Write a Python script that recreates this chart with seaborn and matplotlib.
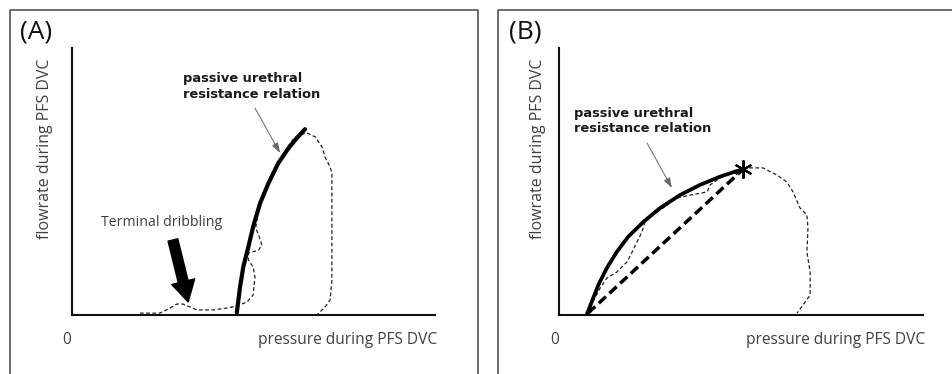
import matplotlib
matplotlib.use("Agg")
import matplotlib.pyplot as plt
from matplotlib.patches import Rectangle
import seaborn as sns

# ---------------- data (arbitrary units, axes span 0..100) ----------------
# Panel A: passive urethral resistance relation (solid)
a_purr_x = [45.4, 46.3, 47.2, 48.6, 49.9, 51.8, 54.1, 56.8, 59.6, 61.9, 64.2]
a_purr_y = [0.9, 10.6, 18.1, 25.6, 33.1, 41.8, 49.3, 56.8, 62.4, 66.2, 69.6]
# Panel A: measured pressure-flow loop (thin dashed)
a_loop_x = [18.7, 24.2, 27.0, 28.9, 30.6, 32.5, 34.4, 38.8, 42.7, 45.5, 48.2, 49.9,
            50.4, 49.9, 48.6, 48.6, 51.4, 52.3, 51.4, 50.6, 51.2, 52.6, 54.6, 57.3,
            60.1, 61.5, 62.5, 64.7, 67.0, 68.9, 69.7, 71.1, 71.6, 71.6, 71.6, 71.1,
            69.7, 68.3, 67.5]
a_loop_y = [0.7, 0.7, 2.6, 4.1, 4.1, 3.0, 1.9, 1.9, 2.6, 3.4, 4.9, 7.5,
            14.2, 18.0, 20.6, 23.2, 24.3, 26.2, 30.0, 32.6, 37.5, 44.9, 51.7, 58.1,
            64.4, 66.7, 67.4, 68.2, 66.7, 62.9, 59.2, 55.4, 53.2, 35.6, 13.1, 5.6,
            3.0, 1.1, 0.0]
# Panel A: terminal dribbling arrow (tail -> tip) and label pointer
a_drib_arrow = [(27.8, 28.1), (32.0, 4.9)]
a_label_arrow = [(50.4, 77.5), (57.3, 60.7)]

# Panel B: passive urethral resistance relation (solid)
b_purr_x = [7.6, 9.0, 10.8, 13.1, 15.9, 19.0, 23.2, 27.7, 33.2, 38.7, 44.2, 48.8, 50.5]
b_purr_y = [0.0, 5.0, 11.2, 17.5, 23.7, 29.3, 34.9, 40.0, 44.9, 48.7, 51.8, 53.9, 54.5]
# Panel B: straight line to maximum-flow point (thick dashed)
b_line_x = [8.0, 50.5]
b_line_y = [0.7, 54.5]
# Panel B: measured pressure-flow loop (thin dashed)
b_loop_x = [8.0, 9.3, 11.3, 13.2, 15.9, 18.7, 20.1, 21.4, 22.8, 23.6, 25.8, 28.6,
            32.4, 36.0, 40.7, 41.5, 44.2, 47.0, 48.9, 52.5, 56.0, 59.9, 62.6, 64.3,
            66.2, 68.1, 68.4, 68.1, 69.0, 69.0, 67.0, 65.4]
b_loop_y = [0.7, 4.9, 10.1, 13.9, 16.1, 19.9, 23.6, 27.3, 31.1, 34.8, 37.5, 40.1,
            43.8, 44.9, 46.1, 48.7, 51.3, 53.2, 53.9, 55.1, 55.1, 52.4, 49.8, 46.1,
            40.1, 37.5, 32.6, 23.6, 16.1, 7.5, 3.7, 0.7]
b_star = (50.5, 54.5)
b_label_arrow = [(24.2, 64.4), (31.0, 47.6)]

panel_labels = ["(A)", "(B)"]
xlabel_text = "pressure during PFS DVC"
ylabel_text = "flowrate during PFS DVC"
zero_text = "0"
purr_text = "passive urethral\nresistance relation"
drib_text = "Terminal dribbling"

# ---------------- styling ----------------
sns.set_style("white")
plt.rcParams['font.family'] = ['Open Sans', 'DejaVu Sans']

W, H = 952, 374
fig = plt.figure(figsize=(W / 100, H / 100), dpi=100)

GRAY = "#555555"


def fx(px):
    return px / W


def fy(py):
    return 1 - py / H


# panel frames
fig.patches.append(Rectangle((fx(10), fy(380)), fx(478) - fx(10), fy(10) - fy(380),
                             transform=fig.transFigure, fill=False, ec=GRAY, lw=1.2))
fig.patches.append(Rectangle((fx(498), fy(380)), fx(960) - fx(498), fy(10) - fy(380),
                             transform=fig.transFigure, fill=False, ec=GRAY, lw=1.2))

axA = fig.add_axes([fx(72), fy(315), fx(435) - fx(72), fy(48) - fy(315)])
axB = fig.add_axes([fx(559), fy(315), fx(923) - fx(559), fy(48) - fy(315)])

thin_dash = (0, (3, 2))
for ax in (axA, axB):
    ax.set_xlim(0, 100)
    ax.set_ylim(0, 100)
    ax.set_facecolor("none")
    for s in ("top", "right"):
        ax.spines[s].set_visible(False)
    for s in ("left", "bottom"):
        ax.spines[s].set_color("#111111")
        ax.spines[s].set_linewidth(1.5)

# Panel A
sns.lineplot(x=a_loop_x, y=a_loop_y, sort=False, ax=axA, color="#222222",
             lw=0.9, linestyle=thin_dash, estimator=None)
sns.lineplot(x=a_purr_x, y=a_purr_y, sort=False, ax=axA, color="black",
             lw=3.0, estimator=None, solid_joinstyle="round")
axA.annotate("", xy=a_drib_arrow[1], xytext=a_drib_arrow[0],
             arrowprops=dict(arrowstyle="simple,head_length=0.75,head_width=0.85,tail_width=0.36",
                             color="black", shrinkA=0, shrinkB=0, mutation_scale=20))
axA.annotate("", xy=a_label_arrow[1], xytext=a_label_arrow[0],
             arrowprops=dict(arrowstyle="-|>,head_length=0.6,head_width=0.2",
                             color="#666666", lw=0.7, shrinkA=0, shrinkB=0, mutation_scale=10))

# Panel B
sns.lineplot(x=b_loop_x, y=b_loop_y, sort=False, ax=axB, color="#222222",
             lw=0.9, linestyle=thin_dash, estimator=None)
sns.lineplot(x=b_line_x, y=b_line_y, sort=False, ax=axB, color="black",
             lw=2.5, linestyle=(0, (2.8, 1.4)), estimator=None)
sns.lineplot(x=b_purr_x, y=b_purr_y, sort=False, ax=axB, color="black",
             lw=2.7, estimator=None, solid_joinstyle="round")
axB.plot([b_star[0]], [b_star[1]], marker=(6, 2, 0), color="black", ms=13, mew=1.5)
axB.annotate("", xy=b_label_arrow[1], xytext=b_label_arrow[0],
             arrowprops=dict(arrowstyle="-|>,head_length=0.6,head_width=0.2",
                             color="#666666", lw=0.7, shrinkA=0, shrinkB=0, mutation_scale=10))

for ax in (axA, axB):
    ax.set_xticks([])
    ax.set_yticks([])
    ax.set_xlabel("")
    ax.set_ylabel("")
    ax.set_xlim(0, 100)
    ax.set_ylim(0, 100)

# texts (figure-pixel placement)
txt_gray = "#404040"
for lab, x0 in zip(panel_labels, (20, 509)):
    fig.text(fx(x0), fy(32), lab, fontsize=19, color="#111111", va="center", ha="left")

for yx in (45, 538):
    fig.text(fx(yx), fy(149), ylabel_text, rotation=90, fontsize=11.5,
             color=txt_gray, ha="center", va="center")

for zx, rx in ((67, 437), (555, 925)):
    fig.text(fx(zx), fy(340), zero_text, fontsize=11.2, color=txt_gray, ha="center", va="center")
    fig.text(fx(rx), fy(340), xlabel_text, fontsize=11.2, color=txt_gray,
             ha="right", va="center")

fig.text(fx(162), fy(222), drib_text, fontsize=10.2, color=txt_gray, ha="center", va="center")

for lx, ty in ((183, 86.5), (574, 121)):
    fig.text(fx(lx), fy(ty), purr_text, fontsize=9.4, fontweight="bold",
             family=["DejaVu Sans"], color="#1a1a1a",
             ha="left", va="center", linespacing=1.3)

fig.savefig("out.png", dpi=100)
